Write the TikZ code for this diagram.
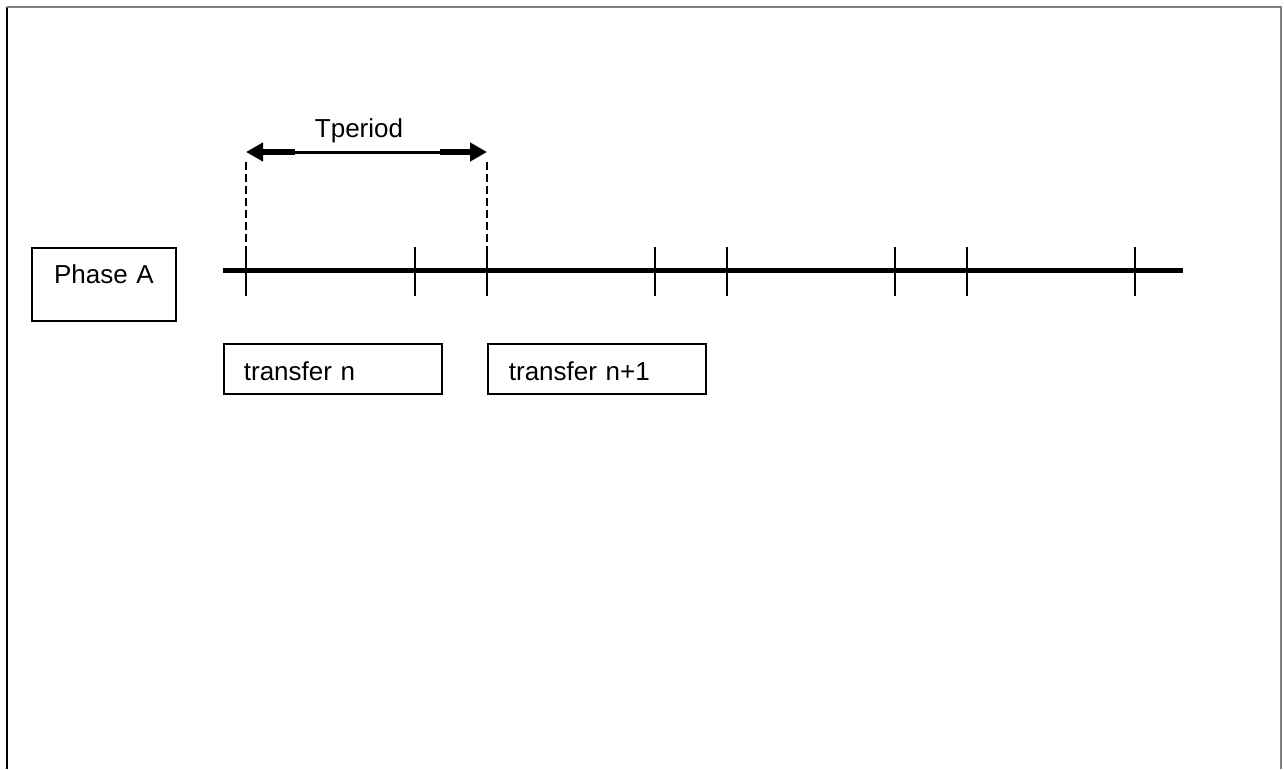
\documentclass[tikz,border=0pt]{standalone}
\usepackage{fontspec}
\setmainfont{Liberation Sans}
\usetikzlibrary{arrows.meta}
\begin{document}
\begin{tikzpicture}[x=1pt,y=-1pt,
  lbl/.style={font=\fontsize{26}{30}\selectfont, inner sep=0pt},
  boxnode/.style={draw, line width=1.8pt, font=\fontsize{26}{30}\selectfont, inner ysep=0pt},
  tickline/.style={line width=1.8pt},
  axisline/.style={line width=5pt},
  guide/.style={line width=1.4pt, dash pattern=on 8pt off 4pt},
  thinarrow/.style={line width=3pt},
  thickarrow/.style={line width=6pt, -{Triangle[length=17pt,width=18pt]}}]
\useasboundingbox (0,0) rectangle (1284,769);
% frame
\draw[line width=2pt] (6.5,769) -- (6.5,6.5);
\draw[line width=2pt, gray] (6.5,6.5) -- (1281,6.5) -- (1281,769);
% Phase A box
\node[boxnode, anchor=north west, minimum width=144pt, inner xsep=0pt, text width=144pt, align=center,
      text height=36pt, text depth=37pt] (phase) at (31,247) {Phase A};
% timeline segments
\coordinate (s0) at (223,270);
\coordinate (s1) at (463,270);
\coordinate (s2) at (703,270);
\coordinate (s3) at (943,270);
\coordinate (s4) at (1183,270);
\draw[axisline] (s0) -- (s1);
\draw[axisline] (s1) -- (s2);
\draw[axisline] (s2) -- (s3);
\draw[axisline] (s3) -- (s4);
% ticks
\foreach \n/\x in {1/246,2/415,3/487,4/655,5/727,6/895,7/967,8/1135}{
  \coordinate (t\n top) at (\x,247);
  \coordinate (t\n bot) at (\x,296);
  \draw[tickline] (t\n top) -- (t\n bot);
}
% period arrow
\coordinate (aL) at (246,152);
\coordinate (aR) at (487,152);
\coordinate (aLm) at (295,152);
\coordinate (aRm) at (440,152);
\coordinate (gL) at (246,162);
\coordinate (gR) at (487,162);
\draw[thinarrow] (aLm) -- (aRm);
\draw[thickarrow] (aLm) -- (aL);
\draw[thickarrow] (aRm) -- (aR);
\draw[guide] (gL) -- (t1top);
\draw[guide] (gR) -- (t3top);
\node[lbl, anchor=base] (tper) at (359,137) {Tperiod};
% transfer boxes
\node[boxnode, anchor=north west, minimum width=218pt, inner xsep=20pt, text width=178pt, align=left,
      text height=37pt, text depth=13pt] (tr1) at (223,343) {transfer n};
\node[boxnode, anchor=north west, minimum width=218pt, inner xsep=21pt, text width=176pt, align=left,
      text height=37pt, text depth=13pt] (tr2) at (487,343) {transfer n+1};
\end{tikzpicture}
\end{document}
